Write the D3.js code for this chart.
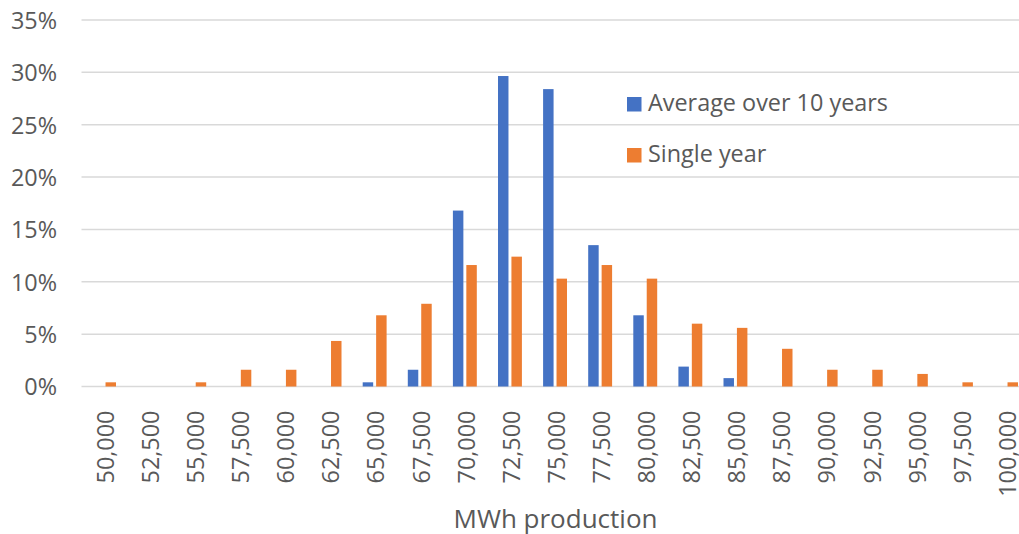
<!DOCTYPE html>
<html>
<head>
<meta charset="utf-8">
<script src="https://cdn.jsdelivr.net/npm/d3@7/dist/d3.min.js"></script>
<style>
  html, body { margin: 0; padding: 0; background: #fff; overflow: hidden; }
  svg { display: block; }
  text { font-family: "Open Sans", "Noto Sans", sans-serif; fill: #595959; }
</style>
</head>
<body>
<svg id="chart" width="1019" height="534"></svg>
<script>
const categories = ["50,000","52,500","55,000","57,500","60,000","62,500","65,000","67,500","70,000","72,500","75,000","77,500","80,000","82,500","85,000","87,500","90,000","92,500","95,000","97,500","100,000"];
const seriesNames = ["Average over 10 years", "Single year"];
const averageValues = [0, 0, 0, 0, 0, 0, 0.4, 1.6, 16.8, 29.65, 28.4, 13.5, 6.8, 1.9, 0.8, 0, 0, 0, 0, 0, 0];
const singleValues = [0.4, 0, 0.4, 1.6, 1.6, 4.35, 6.8, 7.9, 11.6, 12.4, 10.3, 11.6, 10.3, 6.0, 5.6, 3.6, 1.6, 1.6, 1.2, 0.4, 0.4];
const yTicks = [0, 5, 10, 15, 20, 25, 30, 35];
const colors = ["#4472C4", "#ED7D31"];
const xTitle = "MWh production";

const svg = d3.select("#chart");
const pLeft = 81.5, pRight = 1028.6, pTop = 20, pBottom = 386.5;
const labelSize = 23.4, titleSize = 26;

const y = d3.scaleLinear().domain([0, 35]).range([pBottom, pTop]);
const x0 = d3.scaleBand().domain(categories).range([pLeft, pRight]).paddingInner(0.47).paddingOuter(0.235);
const x1 = d3.scaleBand().domain(seriesNames).range([0, x0.bandwidth()]).paddingInner(0.22);

// gridlines
svg.append("g").selectAll("line").data(yTicks).join("line")
  .attr("x1", pLeft).attr("x2", pRight)
  .attr("y1", d => y(d)).attr("y2", d => y(d))
  .attr("stroke", "#d9d9d9").attr("stroke-width", 1.5);

// y labels
const yAxis = d3.axisLeft(y).tickValues(yTicks).tickFormat(d => d + "%").tickSize(0).tickPadding(0);
const gy = svg.append("g").attr("transform", `translate(57,0)`).call(yAxis);
gy.select(".domain").remove();
gy.selectAll("text").attr("font-size", labelSize).attr("fill", "#595959")
  .style("font-family", '"Open Sans", sans-serif').attr("dy", "0.36em");

// bars
const data = categories.map((c, i) => ({cat: c, vals: [averageValues[i], singleValues[i]]}));
const groups = svg.append("g").selectAll("g").data(data).join("g")
  .attr("transform", d => `translate(${x0(d.cat)},0)`);
groups.selectAll("rect").data(d => d.vals.map((v, j) => ({name: seriesNames[j], v, j})).filter(e => e.v > 0)).join("rect")
  .attr("x", d => x1(d.name))
  .attr("width", x1.bandwidth())
  .attr("y", d => y(d.v))
  .attr("height", d => y(0) - y(d.v))
  .attr("fill", d => colors[d.j]);

// x labels
const xAxis = d3.axisBottom(x0).tickSize(0).tickPadding(0);
const gx = svg.append("g").attr("transform", `translate(0,${pBottom})`).call(xAxis);
gx.select(".domain").remove();
gx.selectAll("text")
  .attr("font-size", labelSize).attr("fill", "#595959")
  .style("font-family", '"Open Sans", sans-serif')
  .attr("text-anchor", "end")
  .attr("transform", "translate(0,24) rotate(-90)")
  .attr("x", 0).attr("y", 0).attr("dy", "0.42em");

// x title
svg.append("text").attr("x", 555.5).attr("y", 528).attr("text-anchor", "middle")
  .attr("font-size", titleSize).text(xTitle);

// legend
const legend = svg.append("g").selectAll("g").data(seriesNames).join("g")
  .attr("transform", (d, i) => `translate(627,${97 + i * 51})`);
legend.append("rect").attr("width", 14.5).attr("height", 14.5).attr("fill", (d, i) => colors[i]);
legend.append("text").attr("x", 21).attr("y", 14).attr("font-size", labelSize).text(d => d);
</script>
</body>
</html>
